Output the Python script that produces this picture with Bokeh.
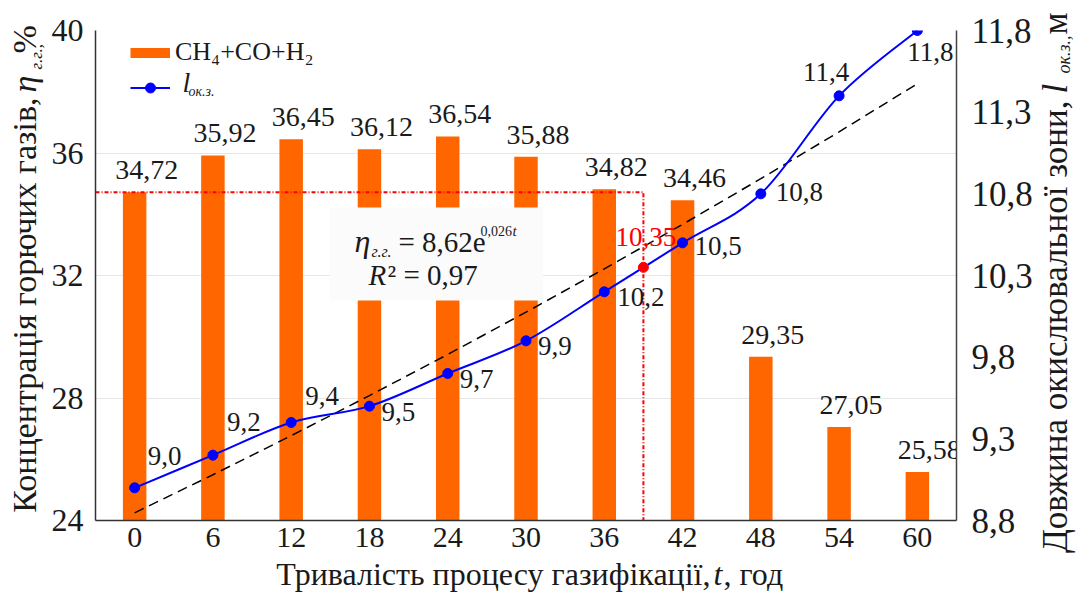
import math
import numpy as np
from bokeh.plotting import figure
from bokeh.layouts import row, column
from bokeh.models import (Range1d, LinearAxis, FixedTicker, ColumnDataSource, Label,
                          Legend, LegendItem, BoxAnnotation, CustomJSTickFormatter)
from bokeh.core.properties import value
from bokeh.embed import file_html
from bokeh.resources import INLINE

# ---------------- data ----------------
t_hours = [0, 6, 12, 18, 24, 30, 36, 42, 48, 54, 60]
gas_conc = [34.72, 35.92, 36.45, 36.12, 36.54, 35.88, 34.82, 34.46, 29.35, 27.05, 25.58]
zone_len = [9.0, 9.2, 9.4, 9.5, 9.7, 9.9, 10.2, 10.5, 10.8, 11.4, 11.8]
fit_a, fit_b = 8.62, 0.026          # l = a * exp(b * k), k = 1..11
fit_r2 = "0,97"
red_t, red_l, red_eta = 39, 10.35, 34.72
left_ticks = [24, 28, 32, 36, 40]
right_ticks = [8.8, 9.3, 9.8, 10.3, 10.8, 11.3, 11.8]
x_ticks = t_hours

# ---------------- style / layout (picture pixels) ----------------
FONT = "Liberation Serif"
ORANGE = "#FF6600"
BLUE = "#0000FF"
TXT = "#1a1a1a"
TOTAL_W, TOTAL_H = 1076, 592
LW = 48            # left title strip width
RX0 = 1035         # right title strip starts here
MH = 555           # main figure height
F_L, F_R, F_T, F_B = 93, 965, 30, 520   # plot frame edges in picture px
MW = RX0 - LW
RW = TOTAL_W - RX0


def bl(size):      # correction between requested and drawn baseline
    return 2 + 0.3 * size


def rx(px):   # picture x -> frame-relative screen x
    return px - F_L


def ry(py):   # picture y -> frame-relative screen y (upwards)
    return F_B - py


# label offsets for the line values (dx, dy in px; dy positive = down)
lbl_dx = [13, 14, 14, 12, 12, 12, 13, 12, 15, -36, -10]
lbl_dy = [-32, -33, -27, 6, 5, 5, 5, 3, -2, -24, 21]

p = figure(width=MW, height=MH, output_backend="svg", toolbar_location=None,
           x_range=Range1d(-3, 63), y_range=Range1d(left_ticks[0], left_ticks[-1]),
           min_border_left=F_L - LW, min_border_right=RX0 - F_R, min_border_top=F_T,
           min_border_bottom=MH - F_B, title=None)
p.extra_y_ranges = {"right": Range1d(right_ticks[0], right_ticks[-1])}
p.outline_line_color = None
p.background_fill_color = "white"
p.border_fill_color = "white"

# axes
p.xaxis.ticker = FixedTicker(ticks=x_ticks)
p.yaxis.ticker = FixedTicker(ticks=left_ticks)
for ax in (p.xaxis[0], p.yaxis[0]):
    ax.major_label_text_font = FONT
    ax.major_label_text_color = TXT
    ax.major_tick_line_color = None
    ax.minor_tick_line_color = None
    ax.axis_line_color = "#333333"
    ax.axis_line_width = 1.5
p.xaxis.major_label_text_font_size = "30px"
p.xaxis.major_label_standoff = 1
p.yaxis.major_label_text_font_size = "32px"
p.yaxis.major_label_standoff = 6

rax = LinearAxis(y_range_name="right", ticker=FixedTicker(ticks=right_ticks),
                 formatter=CustomJSTickFormatter(code="return tick.toFixed(1).replace('.', ',')"))
rax.major_label_text_font = FONT
rax.major_label_text_font_size = "35px"
rax.major_label_text_color = TXT
rax.major_tick_line_color = None
rax.minor_tick_line_color = None
rax.axis_line_color = "#444444"
rax.axis_line_width = 1.5
rax.major_label_standoff = 9
p.add_layout(rax, "right")

p.xgrid.visible = False
p.ygrid.ticker = FixedTicker(ticks=left_ticks)
p.ygrid.grid_line_color = "#E6E6E6"
p.ygrid.grid_line_width = 1

# bars
bar_src = ColumnDataSource(dict(t=t_hours, eta=gas_conc,
                                lbl=[f"{v:.2f}".replace(".", ",") for v in gas_conc]))
p.vbar(x="t", top="eta", bottom=left_ticks[0], width=1.8, source=bar_src,
       fill_color=ORANGE, line_color=None)
p.text(x="t", y="eta", text="lbl", source=bar_src, x_offset=12, y_offset=-22,
       text_align="center", text_baseline="alphabetic", text_font=value(FONT),
       text_font_size="28px", text_color=TXT)

# red dotted guide
p.line(x=[p.x_range.start, red_t, red_t], y=[red_eta, red_eta, left_ticks[0]],
       line_color="red", line_width=2, line_dash="4 2 1 2")

# trend line (fit)
fit_vals = [fit_a * math.exp(fit_b * (k + 1)) for k in range(len(t_hours))]
p.line(x=t_hours, y=fit_vals, y_range_name="right", line_color="black",
       line_width=1.5, line_dash="10 6")

# smooth blue curve (Catmull-Rom -> Bezier through the data points)
xs = np.array(t_hours, float)
ys = np.array(zone_len, float)
n = len(xs)
seg = dict(x0=[], y0=[], x1=[], y1=[], cx0=[], cy0=[], cx1=[], cy1=[])
for i in range(n - 1):
    a = max(i - 1, 0)
    d = min(i + 2, n - 1)
    seg["x0"].append(xs[i]); seg["y0"].append(ys[i])
    seg["x1"].append(xs[i + 1]); seg["y1"].append(ys[i + 1])
    seg["cx0"].append(xs[i] + (xs[i + 1] - xs[a]) / 6)
    seg["cy0"].append(ys[i] + (ys[i + 1] - ys[a]) / 6)
    seg["cx1"].append(xs[i + 1] - (xs[d] - xs[i]) / 6)
    seg["cy1"].append(ys[i + 1] - (ys[d] - ys[i]) / 6)
p.bezier(x0="x0", y0="y0", x1="x1", y1="y1", cx0="cx0", cy0="cy0", cx1="cx1", cy1="cy1",
         source=ColumnDataSource(seg), y_range_name="right", line_color=BLUE, line_width=2)

line_src = ColumnDataSource(dict(t=t_hours, l=zone_len,
                                 lbl=[f"{v:.1f}".replace(".", ",") for v in zone_len],
                                 dx=lbl_dx, dy=lbl_dy))
pts = p.scatter(x="t", y="l", source=line_src, y_range_name="right", size=10,
                fill_color=BLUE, line_color=BLUE)
p.text(x="t", y="l", text="lbl", source=line_src, y_range_name="right",
       x_offset="dx", y_offset="dy", text_align="left", text_baseline="alphabetic",
       text_font=value(FONT), text_font_size="27px", text_color=TXT)

# red point + label
p.scatter(x=[red_t], y=[red_l], y_range_name="right", size=10, fill_color="red", line_color="red")
p.text(x=[red_t], y=[red_l], text=[f"{red_l:.2f}".replace(".", ",")], y_range_name="right",
       x_offset=-28, y_offset=-30, text_align="left", text_baseline="alphabetic",
       text_font=value(FONT), text_font_size="27px", text_color="red")

# formula box
p.add_layout(BoxAnnotation(left=14.95, right=31.3, bottom=31.18, top=34.22,
                           fill_color="#FBFBFB", fill_alpha=1.0, line_color=None))


def put(fig, txt, x, y, size, style="normal", align="left", angle=0.0, color=TXT, units="data"):
    fig.add_layout(Label(x=x, y=y, x_units=units, y_units=units, text=txt,
                         text_font=FONT, text_font_size=f"{size}px", text_font_style=style,
                         text_align=align, text_baseline="alphabetic", angle=angle,
                         text_color=color))


def lab(txt, px, py, size, style="normal", align="left", color=TXT):
    # (px, py): wanted baseline start in picture pixels
    put(p, txt, rx(px), ry(py - bl(size)), size, style, align, 0.0, color, units="screen")


lab("η", 352, 252, 32, "italic")
lab("г.г.", 369, 258, 16, "italic")
lab("= 8,62e", 396, 252, 29)
lab("0,026", 478, 237, 14)
lab("t", 510, 237, 15, "italic")
lab("R", 366, 285, 29, "italic")
lab("² = " + fit_r2, 385, 285, 29)

# legend
NAN = float("nan")
proxy_bar = p.line(x=[NAN], y=[NAN], line_color=ORANGE, line_width=10)
proxy_line = p.line(x=[NAN], y=[NAN], line_color=BLUE, line_width=2)
legend = Legend(items=[LegendItem(label="CH₄+CO+H₂", renderers=[proxy_bar]),
                       LegendItem(label=" ", renderers=[proxy_line, pts])],
                location=(rx(128), ry(100)), glyph_width=40, glyph_height=25,
                label_height=25, label_standoff=5, spacing=8, padding=0, margin=0,
                border_line_alpha=0, background_fill_alpha=0,
                label_text_font=FONT, label_text_font_size="26px", label_text_color=TXT)
p.add_layout(legend)
lab("l", 180, 92, 28, "italic")
lab("ок.з.", 186, 97, 14, "italic")


# ---------------- title strips (separate small figures) ----------------
def strip(w, h, x0, x1, y_top, y_bottom):
    f = figure(width=w, height=h, output_backend="svg", toolbar_location=None,
               x_range=Range1d(x0, x1), y_range=Range1d(y_bottom, y_top),
               x_axis_location=None, y_axis_location=None, min_border=0, title=None)
    f.grid.visible = False
    f.outline_line_color = None
    f.background_fill_color = "white"
    f.border_fill_color = "white"
    return f


HALF_PI = math.pi / 2


def vput(fig, txt, bx, py, size, style="normal", align="left"):
    # vertical text (reading upwards); bx = wanted baseline x in picture pixels
    put(fig, txt, bx - bl(size), py, size, style, align, HALF_PI)


left_f = strip(LW, TOTAL_H, 0, LW, 0, TOTAL_H)
vput(left_f, "Концентрація горючих газів,", 36, 97, 34, align="right")
vput(left_f, "η", 36, 92, 34, "italic")
vput(left_f, "г.г.,", 43, 69, 17, "italic")
vput(left_f, "%", 36, 53, 34)

right_f = strip(RW, TOTAL_H, RX0, TOTAL_W, 0, TOTAL_H)
vput(right_f, "Довжина окислювальної зони,", 1067, 100, 35, align="right")
vput(right_f, "l", 1067, 93, 35, "italic")
vput(right_f, "ок.з.,", 1071, 73, 18, "italic")
vput(right_f, "м", 1067, 34, 35)

# x-axis title strip: its frame is aligned with the main frame (F_L .. F_R)
BH = TOTAL_H - MH
bottom_f = strip(MW, BH, LW, RX0, MH, TOTAL_H)


def bput(txt, px, py, size, style="normal", align="left"):
    put(bottom_f, txt, px - F_L, TOTAL_H - (py - bl(size)), size, style, align, 0.0, TXT,
        units="screen")


bput("Тривалість процесу газифікації,", 708, 585, 32, align="right")
bput("t", 711, 585, 32, "italic")
bput(", год", 721, 585, 32)

layout = row(left_f, column(p, bottom_f, spacing=0), right_f, spacing=0)

open("out.html", "w").write(file_html(layout, INLINE))
